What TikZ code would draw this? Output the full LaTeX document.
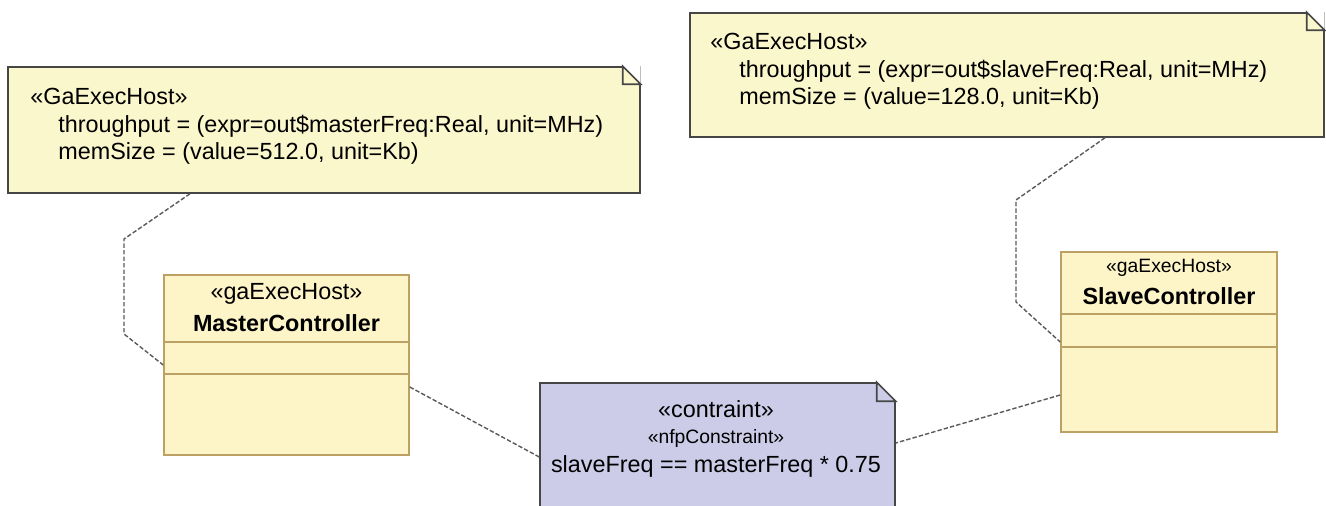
\documentclass[tikz,border=0pt]{standalone}
\usepackage{fontspec}
\setmainfont{Liberation Sans}
\usepackage{tikz}
\usetikzlibrary{arrows,positioning,shapes}
\definecolor{noteyellow}{RGB}{251,247,204}
\definecolor{classyellow}{RGB}{253,244,200}
\definecolor{classline}{RGB}{188,160,100}
\definecolor{noteline}{RGB}{70,70,70}
\definecolor{constrfill}{RGB}{204,204,232}
\definecolor{linkgray}{RGB}{90,90,90}
\newcommand{\umlfont}{\fontsize{13.3}{16}\selectfont}
\newcommand{\umlsmall}{\fontsize{11}{13}\selectfont}
\tikzset{
    %Define style for notes
    umlnote/.style={
           rectangle,
           draw=noteline,
           fill=noteyellow,
           line width=0.9pt,
           inner sep=0pt},
    constrnote/.style={
           umlnote,
           fill=constrfill},
    %Define style for classes
    umlclass/.style={
           rectangle,
           draw=classline,
           fill=classyellow,
           line width=0.9pt,
           inner sep=0pt},
    divider/.style={
           draw=classline,
           line width=0.9pt},
    %Define style for texts
    notetext/.style={
           anchor=base west,
           inner sep=0pt,
           font=\umlfont},
    ctext/.style={
           anchor=base,
           inner sep=0pt,
           font=\umlfont},
    % Define link style
    link/.style={
           draw=linkgray,
           line width=0.8pt,
           dash pattern=on 2.5pt off 1.2pt}
}

\begin{document}
\begin{tikzpicture}[x=0.02cm, y=-0.02cm]
    \clip (0,0) rectangle (1326,506);
    \fill[white] (0,0) rectangle (1326,506);

    % NOTES
    \node[umlnote, minimum width=12.64cm, minimum height=2.52cm] at (324,130) (hostnoteA) {};
    \fill[white] (hostnoteA.north east) -- ++(-18,0) -- ++(18,18) -- cycle;
    \draw[noteline, line width=0.9pt] ([xshift=-0.36cm]hostnoteA.north east) -- ++(0,18) -- ++(18,0) -- cycle;
    \node[notetext] at (30,105) (hoststA) {«GaExecHost»};
    \node[notetext] at (58,132.5) (throughA) {throughput = (expr=out\$masterFreq:Real, unit=MHz)};
    \node[notetext] at (58,160) (memA) {memSize = (value=512.0, unit=Kb)};

    \node[umlnote, minimum width=12.68cm, minimum height=2.48cm] at (1007,75) (hostnoteB) {};
    \fill[white] (hostnoteB.north east) -- ++(-18,0) -- ++(18,18) -- cycle;
    \draw[noteline, line width=0.9pt] ([xshift=-0.36cm]hostnoteB.north east) -- ++(0,18) -- ++(18,0) -- cycle;
    \node[notetext] at (710,50) (hoststB) {«GaExecHost»};
    \node[notetext] at (739,77.5) (throughB) {throughput = (expr=out\$slaveFreq:Real, unit=MHz)};
    \node[notetext] at (739,105) (memB) {memSize = (value=128.0, unit=Kb)};

    % CLASSES
    \node[umlclass, minimum width=4.9cm, minimum height=3.6cm] at (286.5,365) (master) {};
    \draw[divider] ([yshift=-1.36cm]master.north west) -- ([yshift=-1.36cm]master.north east);
    \draw[divider] ([yshift=-2cm]master.north west) -- ([yshift=-2cm]master.north east);
    \node[ctext] at (286.5,300) (masterst) {«gaExecHost»};
    \node[ctext] at (286.5,332) (mastername) {\textbf{MasterController}};

    \node[umlclass, minimum width=4.32cm, minimum height=3.6cm] at (1169,342) (slave) {};
    \draw[divider] ([yshift=-1.26cm]slave.north west) -- ([yshift=-1.26cm]slave.north east);
    \draw[divider] ([yshift=-1.92cm]slave.north west) -- ([yshift=-1.92cm]slave.north east);
    \node[ctext, font=\umlsmall] at (1169,273) (slavest) {«gaExecHost»};
    \node[ctext] at (1169,305) (slavename) {\textbf{SlaveController}};

    % CONSTRAINT
    \node[constrnote, minimum width=7.1cm, minimum height=2.8cm] at (717.5,453) (constr) {};
    \fill[white] (constr.north east) -- ++(-19,0) -- ++(19,19) -- cycle;
    \draw[noteline, line width=0.9pt] ([xshift=-0.38cm]constr.north east) -- ++(0,19) -- ++(19,0) -- cycle;
    \node[ctext] at (716,418) (constrst) {«contraint»};
    \node[ctext, font=\umlsmall] at (716,444) (nfpst) {«nfpConstraint»};
    \node[ctext] at (716,473) (constrbody) {slaveFreq == masterFreq * 0.75};

    % LINKS
    \draw[link] (hostnoteA.south -| 190,0) -- (124,239) -- (124,334) -- (master.west |- 0,365);
    \draw[link] (hostnoteB.south -| 1105,0) -- (1016,200) -- (1016,302) -- (slave.west |- 0,342);
    \draw[link] (master.east |- 0,387) -- (constr.west |- 0,457);
    \draw[link] (slave.west |- 0,395) -- (constr.east |- 0,443);
\end{tikzpicture}
\end{document}
